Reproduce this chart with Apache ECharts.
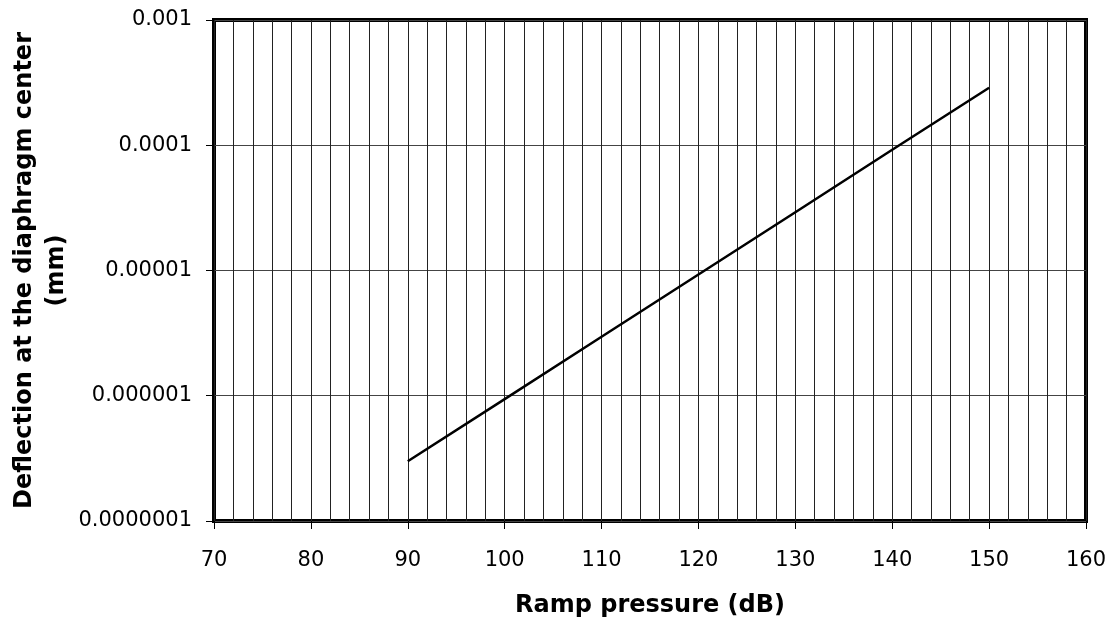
<!DOCTYPE html>
<html>
<head>
<meta charset="utf-8">
<script src="https://cdn.jsdelivr.net/npm/echarts@6/dist/echarts.min.js"></script>
<style>
  html, body { margin: 0; padding: 0; background: #fff; }
  #chart { width: 1114px; height: 626px; }
</style>
</head>
<body>
<div id="chart"></div>
<script>
// Ramp pressure (dB) and centre deflection (mm)
const pressureDb = [90, 100, 110, 120, 130, 140, 150];
const deflectionMm = [3.0e-7, 9.4e-7, 2.96e-6, 9.3e-6, 2.92e-5, 9.2e-5, 2.88e-4];

const xTitle = 'Ramp pressure (dB)';
const yTitle = 'Deflection at the diaphragm center\n(mm)';

const font = '"DejaVu Sans", "Liberation Sans", Arial, sans-serif';

const chart = echarts.init(document.getElementById('chart'), null, { renderer: 'canvas' });

// log-axis labels written out as plain decimals
function decimalLabel(v) {
  const e = Math.round(Math.log10(v));
  return e < 0 ? v.toFixed(-e) : String(Math.round(v));
}

chart.setOption({
  backgroundColor: '#fff',
  animation: false,
  grid: {
    left: 214, top: 20, right: 28, bottom: 105,
    containLabel: false,
    outerBoundsMode: 'none',
    show: true, borderColor: '#000', borderWidth: 4, backgroundColor: 'transparent'
  },
  xAxis: {
    type: 'value',
    min: 70, max: 160, interval: 10,
    name: xTitle,
    nameLocation: 'middle',
    nameGap: 73,
    nameMoveOverlap: false,
    nameTextStyle: { fontFamily: font, fontSize: 24, fontWeight: 'bold', color: '#000' },
    axisLine: { show: false },
    axisTick: { show: true, inside: false, length: 8, lineStyle: { color: '#000', width: 1 } },
    axisLabel: { fontFamily: font, fontSize: 21, color: '#000', margin: 29 },
    splitLine: { show: true, lineStyle: { color: '#222', width: 1 } },
    minorTick: { show: false, splitNumber: 5 },
    minorSplitLine: { show: true, lineStyle: { color: '#222', width: 1 } }
  },
  yAxis: {
    type: 'log',
    logBase: 10,
    min: 1e-7, max: 1e-3,
    name: yTitle,
    nameLocation: 'middle',
    nameRotate: 90,
    nameGap: 141,
    nameMoveOverlap: false,
    nameTextStyle: { fontFamily: font, fontSize: 24, fontWeight: 'bold', color: '#000', lineHeight: 32 },
    axisLine: { show: false },
    axisTick: { show: true, inside: false, length: 8, lineStyle: { color: '#000', width: 1 } },
    axisLabel: { fontFamily: font, fontSize: 21, color: '#000', margin: 22, formatter: decimalLabel },
    splitLine: { show: true, lineStyle: { color: '#444', width: 1 } }
  },
  series: [{
    type: 'line',
    data: pressureDb.map((p, i) => [p, deflectionMm[i]]),
    showSymbol: false,
    symbol: 'none',
    lineStyle: { color: '#000', width: 2.5 },
    z: 5
  }]
});
</script>
</body>
</html>
